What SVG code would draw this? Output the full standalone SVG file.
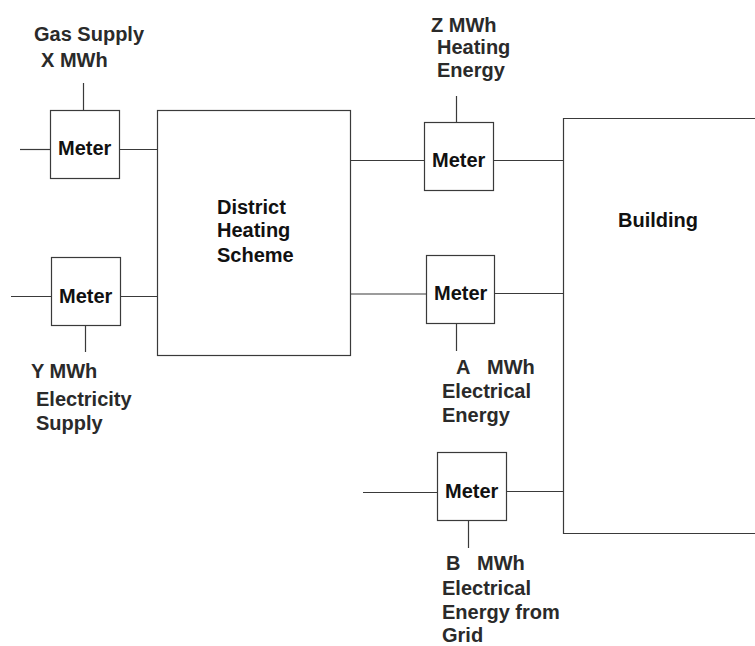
<svg xmlns="http://www.w3.org/2000/svg" width="755" height="646" viewBox="0 0 755 646">
<style>
.box{fill:#fff;stroke:#3a3a3a;stroke-width:1.2}
.ln{stroke:#3a3a3a;stroke-width:1.2;fill:none}
text{font-family:"Liberation Sans",Arial,sans-serif;font-size:20px;font-weight:bold;fill:#111}
.lbl{font-weight:bold;fill:#2a2a2a}
</style>
<rect width="755" height="646" fill="#fff"/>
<g id="connectors">
<line class="ln" x1="20" y1="149.5" x2="50" y2="149.5"/>
<line class="ln" x1="119" y1="149.5" x2="157" y2="149.5"/>
<line class="ln" x1="83.5" y1="83" x2="83.5" y2="110"/>
<line class="ln" x1="11" y1="296.5" x2="51" y2="296.5"/>
<line class="ln" x1="120" y1="296.5" x2="157" y2="296.5"/>
<line class="ln" x1="85.5" y1="326" x2="85.5" y2="352"/>
<line class="ln" x1="350" y1="160.5" x2="424" y2="160.5"/>
<line class="ln" x1="493" y1="160.5" x2="563" y2="160.5"/>
<line class="ln" x1="456.5" y1="96" x2="456.5" y2="122"/>
<line class="ln" x1="350" y1="294" x2="426" y2="294"/>
<line class="ln" x1="494" y1="293.5" x2="563" y2="293.5"/>
<line class="ln" x1="456.5" y1="323" x2="456.5" y2="351"/>
<line class="ln" x1="363" y1="492.5" x2="437" y2="492.5"/>
<line class="ln" x1="506" y1="491.5" x2="563" y2="491.5"/>
<line class="ln" x1="468.5" y1="521" x2="468.5" y2="548"/>
</g>
<g id="meter-gas">
<rect class="box" x="50.5" y="110.5" width="69" height="68"/>
<text x="58" y="154.5">Meter</text>
</g>
<g id="meter-elec">
<rect class="box" x="51.5" y="257.5" width="69" height="68"/>
<text x="59" y="303">Meter</text>
</g>
<g id="district">
<rect class="box" x="157.5" y="110.5" width="193" height="245"/>
<text x="217" y="213.5">District</text>
<text x="217" y="237">Heating</text>
<text x="217" y="262">Scheme</text>
</g>
<g id="meter-heat">
<rect class="box" x="424.5" y="122.5" width="69" height="68"/>
<text x="432" y="167">Meter</text>
</g>
<g id="meter-a">
<rect class="box" x="426.5" y="255.5" width="68" height="68"/>
<text x="434" y="300">Meter</text>
</g>
<g id="meter-b">
<rect class="box" x="437.5" y="452.5" width="69" height="68"/>
<text x="445" y="498">Meter</text>
</g>
<g id="building">
<path class="box" d="M760 118.5 H563.5 V533.5 H760"/>
<text x="618" y="227">Building</text>
</g>
<g id="labels">
<text class="lbl" x="34" y="41">Gas Supply</text>
<text class="lbl" x="41" y="67">X MWh</text>
<text class="lbl" x="31" y="378">Y MWh</text>
<text class="lbl" x="36" y="406">Electricity</text>
<text class="lbl" x="36" y="430">Supply</text>
<text class="lbl" x="431" y="32">Z MWh</text>
<text class="lbl" x="437" y="54">Heating</text>
<text class="lbl" x="437" y="77">Energy</text>
<text class="lbl" x="456" y="374">A</text>
<text class="lbl" x="487" y="374">MWh</text>
<text class="lbl" x="442" y="398">Electrical</text>
<text class="lbl" x="442" y="422">Energy</text>
<text class="lbl" x="446" y="570">B</text>
<text class="lbl" x="477" y="570">MWh</text>
<text class="lbl" x="442" y="595">Electrical</text>
<text class="lbl" x="442" y="619">Energy from</text>
<text class="lbl" x="442" y="642">Grid</text>
</g>
</svg>
